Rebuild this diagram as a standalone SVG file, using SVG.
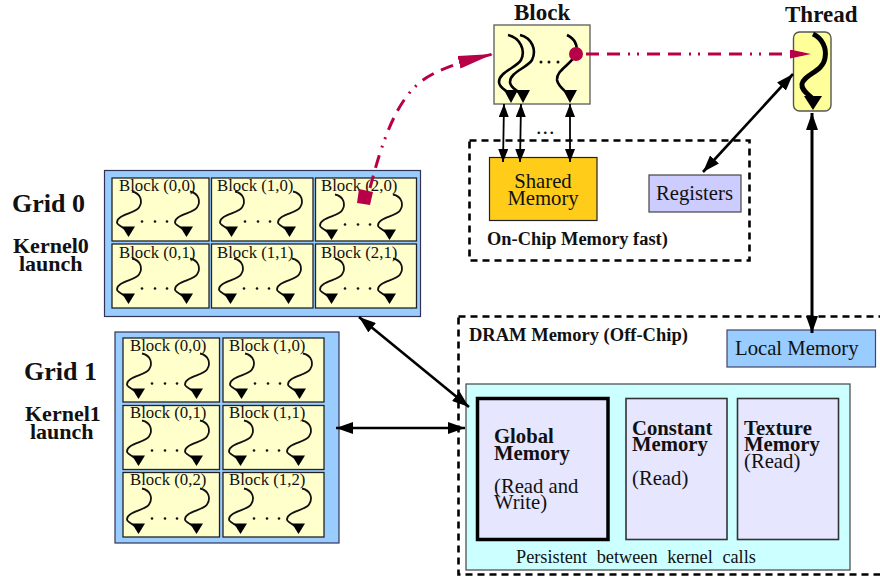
<svg xmlns="http://www.w3.org/2000/svg" xmlns:xlink="http://www.w3.org/1999/xlink" width="880" height="577" viewBox="0 0 880 577">
<style>
text{font-family:"Liberation Serif",serif;fill:#111}
.b{font-weight:bold}
.cell{fill:#ffffcc;stroke:#222;stroke-width:1.3}
.grid{fill:#99ccff;stroke:#335;stroke-width:1.2}
.sq{fill:none;stroke:#111;stroke-width:1.8}
.cap{font-size:16.800px}
.h{font-size:26px;font-weight:bold}
.k{font-size:22px;font-weight:bold}
.t{font-size:23px;font-weight:bold}
.mem{fill:#e6e6ff;stroke:#333;stroke-width:1.6}
.lbl{font-size:20.700px}
.box{font-size:20.700px}
.dash{fill:none;stroke:#000;stroke-width:2.600;stroke-dasharray:7 5}
.arr{fill:none;stroke:#000;stroke-width:1.8;marker-start:url(#ah);marker-end:url(#ah)}
.arrb{fill:none;stroke:#000;stroke-width:2.600;marker-start:url(#ahb);marker-end:url(#ahb)}
.red{fill:none;stroke:#b80048;stroke-width:3;stroke-dasharray:13 8 13 8 2 7 2 8}
.bs{fill:none;stroke:#000;stroke-width:2.600}
</style>
<defs>
<marker id="ah" viewBox="0 0 10 10" refX="10" refY="5" markerWidth="13" markerHeight="10" markerUnits="userSpaceOnUse" orient="auto-start-reverse" preserveAspectRatio="none"><path d="M0 0L10 5L0 10z" fill="#000"/></marker>
<marker id="ahb" viewBox="0 0 10 10" refX="10" refY="5" markerWidth="17" markerHeight="12" markerUnits="userSpaceOnUse" orient="auto-start-reverse" preserveAspectRatio="none"><path d="M0 0L10 5L0 10z" fill="#000"/></marker>
<marker id="rh" viewBox="0 0 10 10" refX="10" refY="5" markerWidth="35" markerHeight="13" markerUnits="userSpaceOnUse" orient="auto" preserveAspectRatio="none"><path d="M0 0L10 5L0 10z" fill="#b80048"/></marker>
<marker id="rh2" viewBox="0 0 10 10" refX="10" refY="5" markerWidth="21" markerHeight="9" markerUnits="userSpaceOnUse" orient="auto" preserveAspectRatio="none"><path d="M0 0L10 5L0 10z" fill="#b80048"/></marker>
<g id="sq1">
<path class="sq" d="M0 0C9 2 11 10 7 16C3 22-15 23-15 31C-15 34-8 35-5 40"/>
<path d="M-10 35L3 35L-3.500 45.500z" fill="#000"/>
</g>
<g id="bk">
<use xlink:href="#sq1" x="20" y="13.500"/>
<use xlink:href="#sq1" x="78" y="13.500"/>
<circle cx="30" cy="43.500" r="1.300" fill="#111"/><circle cx="43" cy="43.500" r="1.300" fill="#111"/><circle cx="55" cy="43.500" r="1.300" fill="#111"/>
</g>
</defs>

<g id="grid0">
<rect class="grid" x="104.500" y="170.500" width="316" height="146"/>
<text class="h" x="12" y="212">Grid 0</text>
<text class="k" x="13" y="253">Kernel0</text>
<text class="k" x="19" y="271">launch</text>
</g>
<g id="g0b00"><rect class="cell" x="112" y="178" width="97" height="63"/><use xlink:href="#bk" x="112" y="178"/><text class="cap" x="119" y="191">Block (0,0)</text></g>
<g id="g0b10"><rect class="cell" x="211.500" y="178" width="101.500" height="63"/><use xlink:href="#bk" x="215" y="178"/><text class="cap" x="217" y="191">Block (1,0)</text></g>
<g id="g0b20"><rect class="cell" x="315.500" y="178" width="101" height="63"/><use xlink:href="#bk" x="315" y="181"/><text class="cap" x="321" y="191">Block (2,0)</text></g>
<g id="g0b01"><rect class="cell" x="112" y="244" width="97" height="64"/><use xlink:href="#bk" x="112" y="245"/><text class="cap" x="119" y="258">Block (0,1)</text></g>
<g id="g0b11"><rect class="cell" x="211.500" y="244" width="101.500" height="64"/><use xlink:href="#bk" x="214" y="245"/><text class="cap" x="217" y="258">Block (1,1)</text></g>
<g id="g0b21"><rect class="cell" x="315.500" y="244" width="101" height="64"/><use xlink:href="#bk" x="315" y="245"/><text class="cap" x="321" y="258">Block (2,1)</text></g>

<g id="grid1">
<rect class="grid" x="115" y="332" width="224" height="211"/>
<text class="h" x="24" y="380">Grid 1</text>
<text class="k" x="25" y="421">Kernel1</text>
<text class="k" x="30" y="439">launch</text>
</g>
<g id="g1b00"><rect class="cell" x="123" y="338" width="96.500" height="64"/><use xlink:href="#bk" x="122" y="340"/><text class="cap" x="130" y="351">Block (0,0)</text></g>
<g id="g1b10"><rect class="cell" x="223" y="338" width="101" height="64"/><use xlink:href="#bk" x="225" y="340"/><text class="cap" x="229" y="351">Block (1,0)</text></g>
<g id="g1b01"><rect class="cell" x="123" y="405.500" width="96.500" height="64"/><use xlink:href="#bk" x="122" y="407"/><text class="cap" x="130" y="418">Block (0,1)</text></g>
<g id="g1b11"><rect class="cell" x="223" y="405.500" width="101" height="64"/><use xlink:href="#bk" x="224" y="407"/><text class="cap" x="229" y="418">Block (1,1)</text></g>
<g id="g1b02"><rect class="cell" x="123" y="472.500" width="96.500" height="64.500"/><use xlink:href="#bk" x="122" y="475"/><text class="cap" x="130" y="485">Block (0,2)</text></g>
<g id="g1b12"><rect class="cell" x="223" y="472.500" width="101" height="64.500"/><use xlink:href="#bk" x="224" y="475"/><text class="cap" x="229" y="485">Block (1,2)</text></g>

<g id="block">
<text class="t" x="514" y="20">Block</text>
<rect x="494" y="25" width="96" height="79" fill="#ffffcc" stroke="#666" stroke-width="1.400"/>
<path class="bs" d="M508 35C520 38 526 50 521 60C516 68 499 72 499 82C499 88 506 90 510 94"/>
<path class="bs" d="M520 35C532 38 537 50 532 60C527 68 510 72 510 82C510 88 517 90 521 94"/>
<path class="bs" d="M567 35C575 39 578 46 576 54C572 64 556 70 557 80C558 86 564 90 568 94"/>
<path d="M504 90L518 90L511 103z" fill="#000"/><path d="M516 90L530 90L523 103z" fill="#000"/><path d="M563 90L577 90L570 103z" fill="#000"/>
<circle cx="541" cy="62" r="1.500" fill="#111"/><circle cx="549" cy="62" r="1.500" fill="#111"/><circle cx="558" cy="62" r="1.500" fill="#111"/>
</g>
<g id="thread">
<text class="t" x="785" y="22">Thread</text>
<rect x="793.500" y="32" width="37.500" height="79" rx="6" fill="#ffff99" stroke="#555" stroke-width="1.400"/>
<path d="M813 34C822 38 827 48 825 58C823 72 804 74 802 84C801 90 808 94 813 99" fill="none" stroke="#000" stroke-width="5"/>
<path d="M804 96L822 96L813 110z" fill="#000"/>
</g>
<g id="onchip">
<rect class="dash" x="469.500" y="140.500" width="280" height="120"/>
<text class="b" font-size="18.400px" x="487" y="245">On-Chip Memory fast)</text>
<text font-size="22px" x="536" y="134" letter-spacing="1">...</text>
</g>
<g id="shared">
<rect x="489.500" y="157.500" width="107.500" height="63" fill="#ffcc1a" stroke="#222" stroke-width="1.200"/>
<text class="box" text-anchor="middle" x="543" y="188">Shared</text>
<text class="box" text-anchor="middle" x="543" y="205">Memory</text>
</g>
<g id="registers">
<rect x="649" y="175" width="92" height="37" fill="#ccccff" stroke="#444" stroke-width="1.200"/>
<text class="box" x="656" y="200">Registers</text>
</g>
<g id="dram">
<rect class="dash" x="458.500" y="316.500" width="430" height="258"/>
<text class="b" font-size="18.500px" x="469" y="341">DRAM Memory (Off-Chip)</text>
</g>
<g id="local">
<rect x="727" y="330" width="148.500" height="37" fill="#99ccff" stroke="#446" stroke-width="1.200"/>
<text class="box" x="735" y="355">Local Memory</text>
</g>
<g id="persist">
<rect x="466" y="384" width="384" height="186" fill="#ccffff" stroke="#444" stroke-width="1.200"/>
<text font-size="18.300px" x="516" y="563" word-spacing="5">Persistent between kernel calls</text>
</g>
<g id="global">
<rect x="477.500" y="398.500" width="130.500" height="141" fill="#e6e6ff" stroke="#000" stroke-width="3.500"/>
<text class="lbl b" x="494" y="443">Global</text><text class="lbl b" x="494" y="460">Memory</text>
<text class="lbl" x="494" y="493">(Read and</text><text class="lbl" x="494" y="509">Write)</text>
</g>
<g id="constant">
<rect class="mem" x="626" y="398.500" width="101" height="141"/>
<text class="lbl b" x="632" y="435">Constant</text><text class="lbl b" x="632" y="451">Memory</text>
<text class="lbl" x="632" y="485">(Read)</text>
</g>
<g id="texture">
<rect class="mem" x="737.500" y="398.500" width="101" height="141"/>
<text class="lbl b" x="744" y="435">Texture</text><text class="lbl b" x="744" y="451">Memory</text>
<text class="lbl" x="744" y="468">(Read)</text>
</g>

<g id="connectors">
<path class="red" d="M370 188C380 150 393 106 418 84C434 70 460 62 493 54" marker-end="url(#rh)"/>
<path d="M359 189L373 192L370 205L357 203z" fill="#b80048"/>
<circle cx="576" cy="54" r="7" fill="#b80048"/>
<path class="red" d="M586 54L811 54" marker-end="url(#rh2)"/>
<path class="arr" d="M504 104L503 162"/>
<path class="arr" d="M521 104L520 162"/>
<path class="arr" d="M570 104L570 162"/>
<path class="arrb" d="M793 74L703 172"/>
<path class="arrb" style="stroke-width:3" d="M812 113L812 333"/>
<path class="arrb" d="M359 317L469 407"/>
<path class="arrb" d="M336 428L465 428"/>
</g>
</svg>
